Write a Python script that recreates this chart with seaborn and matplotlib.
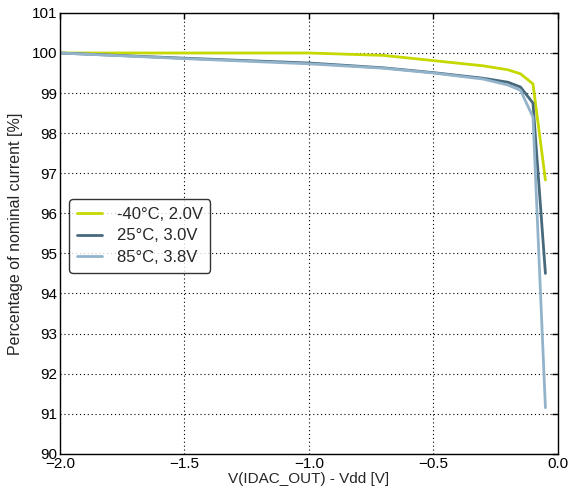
import matplotlib
matplotlib.use("Agg")
import matplotlib.pyplot as plt
import numpy as np
import pandas as pd
import seaborn as sns

# voltage headroom V(IDAC_OUT) - Vdd
v_out = [-2.0, -1.5, -1.0, -0.7, -0.5, -0.3, -0.2, -0.15, -0.1, -0.05]

# percentage of nominal current per corner
cold_2v0 = [100.0, 100.0, 100.0, 99.94, 99.81, 99.68, 99.58, 99.48, 99.23, 96.83]
room_3v0 = [100.0, 99.87, 99.75, 99.63, 99.51, 99.37, 99.27, 99.15, 98.75, 94.5]
hot_3v8 = [100.0, 99.86, 99.73, 99.62, 99.50, 99.35, 99.20, 99.07, 98.40, 91.15]

labels = ["-40°C, 2.0V", "25°C, 3.0V", "85°C, 3.8V"]
colors = ["#c5d800", "#47697c", "#93b3cb"]

df = pd.concat([
    pd.DataFrame({"v": v_out, "pct": vals, "corner": lab})
    for vals, lab in zip([cold_2v0, room_3v0, hot_3v8], labels)
])

sns.set_style("white")
plt.rcParams["font.family"] = ["Liberation Sans", "DejaVu Sans"]
plt.rcParams["font.size"] = 10

fig = plt.figure(figsize=(5.71, 4.97), dpi=100)
ax = fig.add_axes([0.105, 0.087, 0.872, 0.887])

sns.lineplot(data=df, x="v", y="pct", hue="corner", palette=colors,
             linewidth=2.0, ax=ax)

ax.set_xlim(-2.0, 0.0)
ax.set_ylim(90, 101)
ax.set_xticks(np.arange(-2.0, 0.01, 0.5))
ax.set_yticks(np.arange(90, 102, 1))
ax.set_xticklabels(["\u22122.0", "\u22121.5", "\u22121.0", "\u22120.5", "0.0"])

ax.grid(True, color="black", linestyle=(0, (1, 2.5)), linewidth=0.8)
ax.tick_params(direction="in", top=True, right=True, length=4,
               width=1, colors="black", labelsize=11, pad=2)
for s in ax.spines.values():
    s.set_color("black")
    s.set_linewidth(1.0)

ax.set_xlabel("V(IDAC_OUT) - Vdd [V]", fontsize=11, labelpad=1)
ax.set_ylabel("Percentage of nominal current [%]", fontsize=11.5, labelpad=6)

leg = ax.legend(loc="upper left", bbox_to_anchor=(0.012, 0.585),
                fontsize=12, frameon=True, fancybox=True,
                handlelength=1.5, handletextpad=0.9, borderpad=0.45,
                labelspacing=0.4, borderaxespad=0.2)
leg.get_frame().set_edgecolor("black")
leg.get_frame().set_linewidth(1.0)
for line in leg.get_lines():
    line.set_linewidth(2.0)

fig.savefig("out.png", dpi=100)
